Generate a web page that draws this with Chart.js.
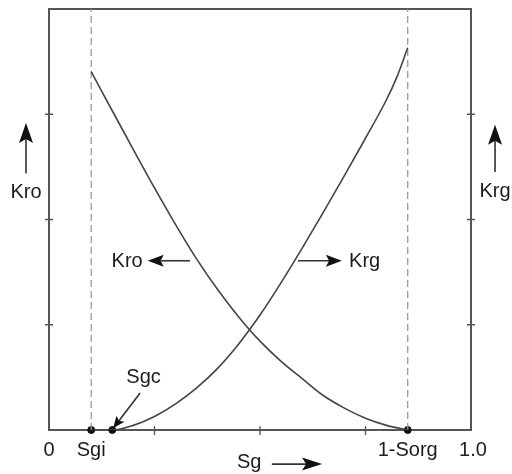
<!DOCTYPE html>
<html>
<head>
<meta charset="utf-8">
<script src="https://cdn.jsdelivr.net/npm/chart.js@4.4.0/dist/chart.umd.min.js"></script>
<style>
	body { margin: 0; background: #fff; }
	#wrap { width: 512px; height: 474px; }
</style>
</head>
<body>
<div id="wrap"><canvas id="myChart"></canvas></div>
<script>
// gas saturation and relative permeabilities
const kro_sg = [0.10, 0.175, 0.25, 0.30, 0.35, 0.40, 0.45, 0.50, 0.55, 0.60, 0.65, 0.70, 0.75, 0.80, 0.85];
const kro_vals = [0.851, 0.712, 0.575, 0.488, 0.406, 0.333, 0.268, 0.211, 0.163, 0.122, 0.082, 0.052, 0.028, 0.011, 0];
const krg_sg = [0.10, 0.15, 0.20, 0.25, 0.30, 0.35, 0.40, 0.45, 0.50, 0.55, 0.60, 0.65, 0.70, 0.75, 0.80, 0.825, 0.85];
const krg_vals = [0, 0, 0.011, 0.032, 0.062, 0.10, 0.147, 0.205, 0.273, 0.35, 0.432, 0.517, 0.604, 0.693, 0.785, 0.84, 0.908];

// end points on the saturation axis
const sgi = 0.10;
const sgc = 0.15;
const sorg_end = 0.85;

const x_tick_values = [0, sgi, sorg_end, 1.0];
const x_tick_labels = ['0', 'Sgi', '1-Sorg', '1.0'];
const minor_ticks = [0.25, 0.5, 0.75];

const FONT = '20px "Liberation Sans", Arial, sans-serif';
const INK = '#1c1c1c';

function toPoints(xs, ys) {
	return xs.map((x, i) => ({ x: x, y: ys[i] }));
}

function arrow(ctx, x1, y1, x2, y2, len, half) {
	const ang = Math.atan2(y2 - y1, x2 - x1);
	const bx = x2 - Math.cos(ang) * len * 0.8;
	const by = y2 - Math.sin(ang) * len * 0.8;
	ctx.beginPath();
	ctx.moveTo(x1, y1);
	ctx.lineTo(bx, by);
	ctx.lineWidth = 1.6;
	ctx.strokeStyle = '#333';
	ctx.stroke();
	// head with a slight notch at the back
	const cx = x2 - Math.cos(ang) * len;
	const cy = y2 - Math.sin(ang) * len;
	const nx = -Math.sin(ang) * half;
	const ny = Math.cos(ang) * half;
	ctx.beginPath();
	ctx.moveTo(x2, y2);
	ctx.lineTo(cx + nx, cy + ny);
	ctx.lineTo(bx, by);
	ctx.lineTo(cx - nx, cy - ny);
	ctx.closePath();
	ctx.fillStyle = '#111';
	ctx.fill();
}

const frame_plugin = {
	id: 'frame',
	beforeDatasetsDraw(chart) {
		const ctx = chart.ctx;
		const area = chart.chartArea;
		const xs = chart.scales.x;
		const ys = chart.scales.y;
		ctx.save();
		ctx.strokeStyle = '#555';
		ctx.lineWidth = 2;
		ctx.strokeRect(area.left, area.top, area.right - area.left, area.bottom - area.top);
		ctx.lineWidth = 1.3;
		minor_ticks.forEach((v) => {
			const px = xs.getPixelForValue(v);
			const py = ys.getPixelForValue(v);
			ctx.beginPath();
			ctx.moveTo(px, area.bottom - 4);
			ctx.lineTo(px, area.bottom + 5);
			ctx.moveTo(area.left - 4, py);
			ctx.lineTo(area.left + 4, py);
			ctx.moveTo(area.right - 4, py);
			ctx.lineTo(area.right + 4, py);
			ctx.stroke();
		});
		ctx.restore();
	},
	afterDraw(chart) {
		const ctx = chart.ctx;
		const xs = chart.scales.x;
		const ys = chart.scales.y;
		const px = (v) => xs.getPixelForValue(v);
		const py = (v) => ys.getPixelForValue(v);
		ctx.save();
		ctx.font = FONT;
		ctx.fillStyle = INK;
		ctx.textBaseline = 'alphabetic';

		ctx.textAlign = 'center';
		x_tick_values.forEach((v, i) => {
			ctx.fillText(x_tick_labels[i], px(v) + (i == 3 ? 2 : 0), py(-0.062));
		});

		// axis names outside the box
		ctx.fillStyle = INK;
		ctx.fillText('Kro', px(-0.0545), py(0.551));
		ctx.fillText('Krg', px(1.057), py(0.553));
		arrow(ctx, px(-0.0545), py(0.61), px(-0.0545), py(0.729), 20, 7);
		ctx.fillStyle = INK;
		arrow(ctx, px(1.057), py(0.613), px(1.057), py(0.725), 20, 7);

		ctx.fillStyle = INK;
		ctx.textAlign = 'left';
		ctx.fillText('Sg', px(0.4455), py(-0.09));
		arrow(ctx, px(0.528), py(-0.081), px(0.647), py(-0.081), 20, 6.5);

		// curve callouts
		ctx.fillStyle = INK;
		ctx.textAlign = 'right';
		ctx.fillText('Kro', px(0.222), py(0.388));
		arrow(ctx, px(0.334), py(0.402), px(0.234), py(0.402), 16, 6);
		ctx.fillStyle = INK;
		ctx.textAlign = 'left';
		ctx.fillText('Krg', px(0.711), py(0.388));
		arrow(ctx, px(0.59), py(0.402), px(0.694), py(0.402), 16, 6);

		ctx.fillStyle = INK;
		ctx.textAlign = 'center';
		ctx.fillText('Sgc', px(0.224), py(0.111));
		arrow(ctx, px(0.216), py(0.088), px(0.152), py(0.004), 12, 5);
		ctx.restore();
	},
};

const ctx = document.getElementById('myChart').getContext('2d');
const myChart = new Chart(ctx, {
	type: 'scatter',
	data: {
		datasets: [
			{
				label: 'Kro',
				data: toPoints(kro_sg, kro_vals),
				showLine: true,
				borderColor: '#444',
				borderWidth: 1.6,
				pointRadius: 0,
				cubicInterpolationMode: 'monotone',
			},
			{
				label: 'Krg',
				data: toPoints(krg_sg, krg_vals),
				showLine: true,
				borderColor: '#444',
				borderWidth: 1.6,
				pointRadius: 0,
				cubicInterpolationMode: 'monotone',
			},
			{
				label: 'Sgi',
				data: [{ x: sgi, y: 0 }, { x: sgi, y: 1 }],
				showLine: true,
				borderColor: '#9a9a9a',
				borderWidth: 1.3,
				borderDash: [7, 4],
				pointRadius: 0,
			},
			{
				label: '1-Sorg',
				data: [{ x: sorg_end, y: 0 }, { x: sorg_end, y: 1 }],
				showLine: true,
				borderColor: '#9a9a9a',
				borderWidth: 1.3,
				borderDash: [7, 4],
				pointRadius: 0,
			},
			{
				label: 'points',
				data: [{ x: sgi, y: 0 }, { x: sgc, y: 0 }, { x: sorg_end, y: 0 }],
				pointRadius: 3.5,
				pointBackgroundColor: '#111',
				pointBorderColor: '#111',
				clip: false,
			},
		],
	},
	options: {
		responsive: true,
		maintainAspectRatio: false,
		animation: false,
		events: [],
		layout: { padding: { left: 49, top: 9, right: 41, bottom: 44 } },
		plugins: {
			legend: { display: false },
			tooltip: { enabled: false },
		},
		scales: {
			x: { type: 'linear', min: 0, max: 1, display: false },
			y: { type: 'linear', min: 0, max: 1, display: false },
		},
	},
	plugins: [frame_plugin],
});
</script>
</body>
</html>
